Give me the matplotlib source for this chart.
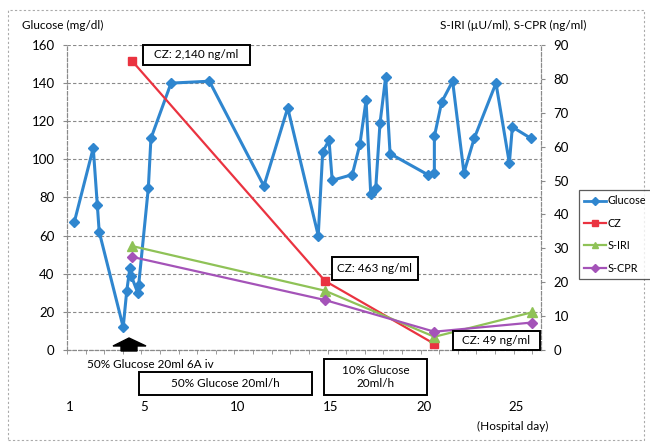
import matplotlib
matplotlib.use('Agg')
import matplotlib.pyplot as plt
from matplotlib.patches import Rectangle, Polygon
from matplotlib.lines import Line2D

plt.rcParams['font.family'] = ['Lato', 'DejaVu Sans']

# hospital day / glucose (mg/dl)
glu_day = [1.23, 2.25, 2.47, 2.57, 3.86, 4.05, 4.22, 4.29, 4.64, 4.69, 5.21, 5.35,
           6.43, 8.49, 11.42, 12.70, 14.34, 14.58, 14.92, 15.09, 16.17, 16.58,
           16.91, 17.16, 17.43, 17.66, 17.96, 18.20, 20.22, 20.58, 20.58, 20.97,
           21.56, 22.17, 22.72, 23.89, 24.61, 24.77, 25.77]
glu_val = [67, 106, 76, 62, 12, 31, 43, 39, 30, 34, 85, 111,
           140, 141, 86, 127, 60, 104, 110, 89, 92, 108,
           131, 82, 85, 119, 143, 103, 92, 93, 112, 130,
           141, 93, 111, 140, 98, 117, 111]

# right axis series
cz_day = [4.32, 14.70, 20.58]
cz_val = [85.4, 20.4, 1.8]
iri_day = [4.32, 14.70, 20.58, 25.81]
iri_val = [30.7, 17.5, 3.9, 11.1]
cpr_day = [4.32, 14.70, 20.58, 25.81]
cpr_val = [27.5, 14.75, 5.4, 8.1]

day_labels = [1, 5, 10, 15, 20, 25]

W, H = 650, 448
fig = plt.figure(figsize=(W / 100, H / 100), dpi=100)
ax = fig.add_axes([67 / W, 1 - 350 / H, (541 - 67) / W, (350 - 45) / H])
ax2 = ax.twinx()

blue = '#2f86cf'
red = '#ea3340'
green = '#8fc257'
purple = '#a453b8'
grey = '#8a8a8a'

ax.plot(glu_day, glu_val, color=blue, lw=2.2, marker='D', ms=5, label='Glucose')
ax2.plot(cz_day, cz_val, color=red, lw=1.6, marker='s', ms=6, label='CZ')
ax2.plot(iri_day, iri_val, color=green, lw=1.6, marker='^', ms=7, label='S-IRI')
ax2.plot(cpr_day, cpr_val, color=purple, lw=1.6, marker='D', ms=5, label='S-CPR')

ax.set_xlim(0.84, 26.31)
ax.set_ylim(0, 160)
ax2.set_ylim(0, 90)
ax.set_yticks(range(0, 161, 20))
ax2.set_yticks(range(0, 91, 10))
ax.grid(axis='y', ls=(0, (3, 2)), color=grey, lw=0.8)
ax.set_axisbelow(True)

ax.set_xticks(day_labels)
ax.set_xticks([0.84 + k for k in range(26)], minor=True)
ax.tick_params(axis='x', which='major', length=0, pad=37, labelsize=9.5)
ax.tick_params(axis='x', which='minor', length=3, color=grey)
ax.tick_params(axis='y', length=3, color=grey, labelsize=9.5, pad=6)
ax2.tick_params(axis='y', length=3, color=grey, labelsize=9.5, pad=6)

for a in (ax, ax2):
    for s in a.spines.values():
        s.set_linestyle((0, (3, 2)))
        s.set_color(grey)
        s.set_linewidth(0.8)
    a.spines['top'].set_visible(False)

fig.text(22 / W, 1 - 25 / H, 'Glucose (mg/dl)', fontsize=8.5, va='center', ha='left')
fig.text(586 / W, 1 - 25 / H, 'S-IRI (\u00b5U/ml), S-CPR (ng/ml)', fontsize=8.5,
         va='center', ha='right')
fig.text(548 / W, 1 - 426 / H, '(Hospital day)', fontsize=8.5, va='center', ha='right')


def box(x0, y0, x1, y1, text):
    fig.patches.append(Rectangle((x0 / W, 1 - y1 / H), (x1 - x0) / W, (y1 - y0) / H,
                                 transform=fig.transFigure, fill=True, fc='white',
                                 ec='black', lw=1.4, zorder=5))
    fig.text((x0 + x1) / 2 / W, 1 - (y0 + y1) / 2 / H, text, fontsize=8.5,
             ha='center', va='center', zorder=6, linespacing=1.3)


box(143, 45, 250, 65, 'CZ: 2,140 ng/ml')
box(332, 257, 418, 280, 'CZ: 463 ng/ml')
box(453, 331, 540, 350, 'CZ: 49 ng/ml')
box(139, 372, 312, 395, '50% Glucose 20ml/h')
box(324, 359, 427, 395, '10% Glucose\n20ml/h')

fig.text(87 / W, 1 - 364 / H, '50% Glucose 20ml 6A iv', fontsize=8.5, va='center', ha='left')

arrow = [(113, 346), (129, 338), (146, 346), (137, 346), (137, 351), (121, 351), (121, 346)]
fig.patches.append(Polygon([(x / W, 1 - y / H) for x, y in arrow], closed=True,
                           transform=fig.transFigure, fc='black', ec='black', zorder=5))

handles = [Line2D([], [], color=blue, lw=2, marker='D', ms=4),
           Line2D([], [], color=red, lw=1.6, marker='s', ms=5),
           Line2D([], [], color=green, lw=1.6, marker='^', ms=5),
           Line2D([], [], color=purple, lw=1.6, marker='D', ms=4)]
leg = fig.legend(handles, ['Glucose', 'CZ', 'S-IRI', 'S-CPR'], loc='upper left',
                 bbox_to_anchor=(579 / W, 1 - 190 / H), fontsize=7.8, frameon=True,
                 fancybox=False, edgecolor='#333333', handlelength=2.0,
                 handletextpad=0.15, borderpad=0.5, borderaxespad=0,
                 labelspacing=1.05)
leg.get_frame().set_linewidth(0.9)

fig.patches.append(Rectangle((8 / W, 1 - 440 / H), (644 - 8) / W, (440 - 10) / H,
                             transform=fig.transFigure, fill=False, ec='#aaaaaa',
                             lw=0.8, ls=(0, (2, 2))))

fig.savefig('out.png', dpi=100)
